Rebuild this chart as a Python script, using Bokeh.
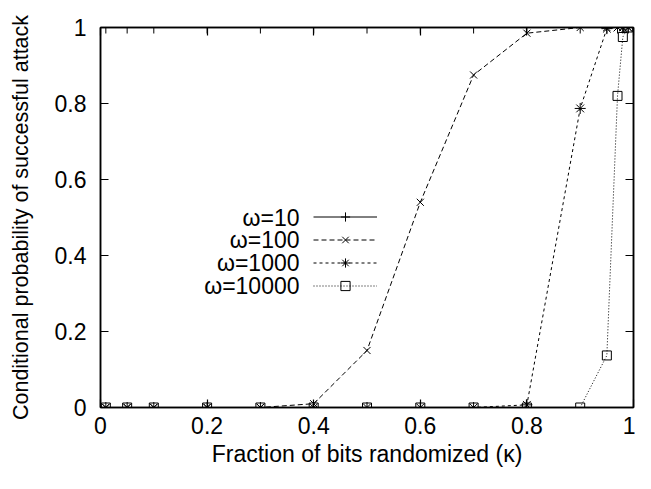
from bokeh.plotting import figure
from bokeh.models import Legend, LegendItem, Label, LinearAxis, FixedTicker, Range1d
from bokeh.embed import file_html
from bokeh.resources import INLINE

# ---------------- data ----------------
kappa = [0.01, 0.05, 0.1, 0.2, 0.3, 0.4, 0.5, 0.6, 0.7, 0.8, 0.9, 0.95, 0.97, 0.98, 0.99]
w10 = [1, 1, 1, 1, 1, 1, 1, 1, 1, 1, 1, 1, 1, 1, 1]
w100 = [0, 0, 0, 0, 0, 0.01, 0.15, 0.54, 0.875, 0.985, 1, 1, 1, 1, 1]
w1000 = [0, 0, 0, 0, 0, 0, 0, 0, 0, 0.007, 0.787, 0.997, 1, 1, 1]
w10000 = [0, 0, 0, 0, 0, 0, 0, 0, 0, 0, 0, 0.137, 0.82, 0.975, 1]
series_names = ["\u03c9=10", "\u03c9=100", "\u03c9=1000", "\u03c9=10000"]
tick_vals = [0, 0.2, 0.4, 0.6, 0.8, 1]
tick_labels = ["0", "0.2", "0.4", "0.6", "0.8", "1"]

FONT = "Liberation Sans"
FS = "23px"

p = figure(width=635, height=473, output_backend="svg", toolbar_location=None,
           x_range=Range1d(0, 1), y_range=Range1d(0, 1),
           min_border_left=100, min_border_right=2, min_border_top=27, min_border_bottom=66)
p.grid.visible = False
p.outline_line_color = "black"
p.outline_line_width = 1.5
p.background_fill_color = "white"
p.border_fill_color = "white"

overrides = {v: l for v, l in zip(tick_vals, tick_labels)}
for ax in (p.xaxis[0], p.yaxis[0]):
    ax.ticker = FixedTicker(ticks=tick_vals)
    ax.major_label_overrides = overrides
    ax.major_tick_in = 8
    ax.major_tick_out = 0
    ax.minor_tick_in = 0
    ax.minor_tick_out = 0
    ax.axis_line_color = "black"
    ax.axis_line_width = 1.5
    ax.major_tick_line_width = 1.2
    ax.major_label_text_font = FONT
    ax.major_label_text_font_size = FS
    ax.major_label_text_color = "black"
    ax.axis_label_text_font = FONT
    ax.axis_label_text_font_style = "normal"
    ax.axis_label_text_color = "black"

p.xaxis.axis_label = "Fraction of bits randomized (\u03ba)"
p.yaxis.axis_label = "Conditional probability of successful attack"
p.xaxis.axis_label_text_font_size = FS
p.yaxis.axis_label_text_font_size = "21.5px"
p.xaxis.major_label_standoff = 9
p.xaxis.axis_label_standoff = 4
p.yaxis.major_label_standoff = 14
p.yaxis.axis_label_standoff = 19

for side in ("above", "right"):
    m = LinearAxis(ticker=FixedTicker(ticks=tick_vals), major_label_text_font_size="1px",
                   major_label_text_color=None,
                   major_label_standoff=0, major_tick_in=8, major_tick_out=0,
                   minor_tick_in=0, minor_tick_out=0, axis_line_color="black",
                   axis_line_width=1.5, major_tick_line_width=1.2)
    p.add_layout(m, side)

styles = [
    dict(dash="solid", marker="cross", size=12),
    dict(dash="5 3", marker="x", size=10),
    dict(dash="3 3", marker="asterisk", size=11),
    dict(dash="1 2", marker="square", size=9),
]
items = []
for name, ys, st in zip(series_names, [w10, w100, w1000, w10000], styles):
    ln = p.line(kappa, ys, line_color="black", line_width=1, line_dash=st["dash"])
    sc = p.scatter(kappa, ys, marker=st["marker"], size=st["size"], line_color="black",
                   fill_color=None, line_width=1)
    items.append(LegendItem(label=" ", renderers=[ln, sc]))

legend = Legend(items=items, location=(213, 110), glyph_width=64, glyph_height=23,
                label_width=0, label_height=23, label_standoff=0, spacing=0, padding=0,
                margin=0, border_line_color=None, background_fill_alpha=0,
                label_text_font_size="1px", label_text_color=None)
p.add_layout(legend, "center")

leg_y = [0.5, 0.44, 0.38, 0.32]
for name, yy in zip(series_names, leg_y):
    p.add_layout(Label(x=0.3734, y=yy, text=name, text_align="right", text_baseline="middle",
                       text_font=FONT, text_font_size=FS, text_color="black"))

open("out.html", "w").write(file_html(p, INLINE))
